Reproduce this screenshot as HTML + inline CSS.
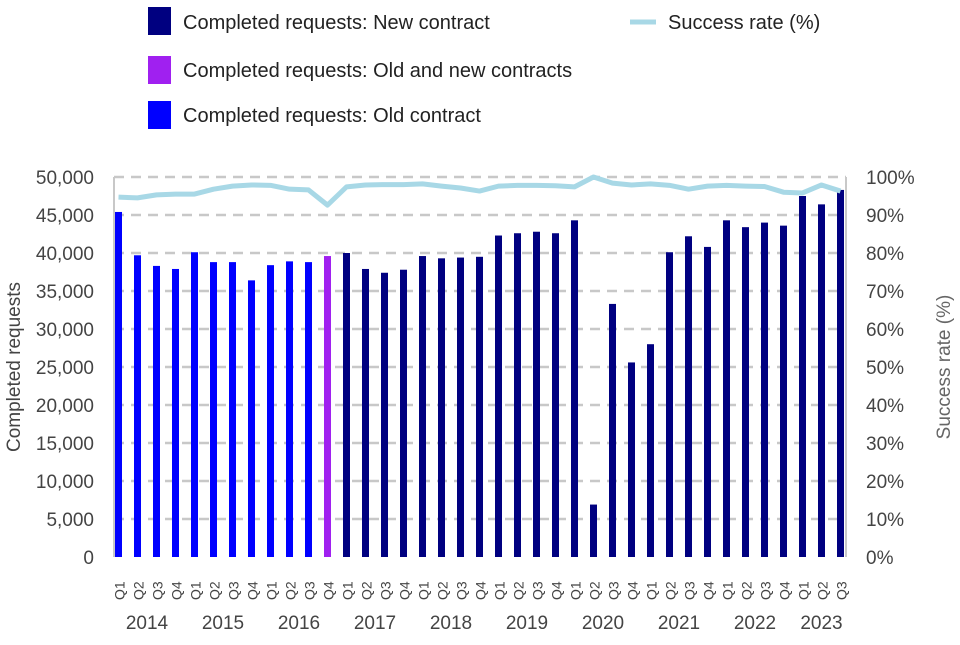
<!DOCTYPE html>
<html><head><meta charset="utf-8"><style>
body{margin:0;background:#fff;}
svg text{font-family:"Liberation Sans",Arial,sans-serif;}
</style></head><body>
<svg id="chart" width="960" height="640" xmlns="http://www.w3.org/2000/svg">
<g>
<g><rect x="148" y="7" width="23" height="28" fill="#000080"/><text x="183" y="29" font-size="20" fill="#222">Completed requests: New contract</text></g>
<g><rect x="148" y="56" width="23" height="28" fill="#a020f0"/><text x="183" y="77" font-size="20" fill="#222">Completed requests: Old and new contracts</text></g>
<g><rect x="148" y="101" width="23" height="28" fill="#0000ff"/><text x="183" y="122" font-size="20" fill="#222">Completed requests: Old contract</text></g>
<g><line x1="630" y1="22" x2="656" y2="22" stroke="#a8d8e6" stroke-width="5"/><text x="668" y="29" font-size="20" fill="#222">Success rate (%)</text></g>
</g>
<g id="grid"></g>
<g id="bars"></g>
<g id="line"></g>
<g id="axes"></g>
<text transform="translate(20,367) rotate(-90)" text-anchor="middle" font-size="19" fill="#444">Completed requests</text>
<text transform="translate(950,367) rotate(-90)" text-anchor="middle" font-size="19" fill="#666">Success rate (%)</text>
</svg>
<script>
const years=["2014","2015","2016","2017","2018","2019","2020","2021","2022","2023"];
const quarters=["Q1","Q2","Q3","Q4","Q1","Q2","Q3","Q4","Q1","Q2","Q3","Q4","Q1","Q2","Q3","Q4","Q1","Q2","Q3","Q4","Q1","Q2","Q3","Q4","Q1","Q2","Q3","Q4","Q1","Q2","Q3","Q4","Q1","Q2","Q3","Q4","Q1","Q2","Q3"];
const completed=[45400,39700,38300,37900,40100,38800,38800,36400,38400,38900,38800,39600,40000,37900,37400,37800,39600,39300,39400,39500,42300,42600,42800,42600,44300,6900,33300,25600,28000,40100,42200,40800,44300,43400,44000,43600,47500,46400,48300];
const contractType=["old","old","old","old","old","old","old","old","old","old","old","both","new","new","new","new","new","new","new","new","new","new","new","new","new","new","new","new","new","new","new","new","new","new","new","new","new","new","new"];
const successRate=[94.7,94.5,95.3,95.5,95.5,96.8,97.6,97.9,97.8,96.8,96.6,92.6,97.4,97.9,98,98,98.2,97.6,97.1,96.3,97.6,97.8,97.8,97.7,97.4,100,98.4,97.9,98.2,97.8,96.8,97.6,97.8,97.6,97.5,96,95.8,97.9,96.3];
const leftTicks=[0,5000,10000,15000,20000,25000,30000,35000,40000,45000,50000];
const rightTicks=[0,10,20,30,40,50,60,70,80,90,100];

const NS="http://www.w3.org/2000/svg";
const X0=109,BW=19,TOP=177,BOT=557;
const x=i=>X0+BW*i+BW/2;
const y=v=>BOT-(v/50000)*(BOT-TOP);
const y2=p=>BOT-(p/100)*(BOT-TOP);
const colors={old:"#0000ff",both:"#a020f0",new:"#000080"};
function mk(tag,attrs,parent,txt){const e=document.createElementNS(NS,tag);for(const k in attrs)e.setAttribute(k,attrs[k]);if(txt!==undefined)e.textContent=txt;parent.appendChild(e);return e;}
const grid=document.getElementById("grid"),bars=document.getElementById("bars"),line=document.getElementById("line"),axes=document.getElementById("axes");
leftTicks.forEach((t,i)=>{
 if(t>0){const g=mk("line",{x1:114,x2:846,y1:y(t),y2:y(t),stroke:"#c8c8c8","stroke-width":2.5,"stroke-dasharray":"10,7"},grid);
 
 }
 const l=mk("text",{x:94,y:y(t)+7,"text-anchor":"end","font-size":19,fill:"#444"},axes,t.toLocaleString("en-US"));
 
 
});
rightTicks.forEach(t=>{
 const l=mk("text",{x:866,y:y2(t)+7,"font-size":19,fill:"#444"},axes,t+"%");
 
 
});
mk("line",{x1:114,x2:114,y1:TOP,y2:BOT,stroke:"#c8c8c8","stroke-width":2},axes);
mk("line",{x1:846,x2:846,y1:TOP,y2:BOT,stroke:"#c8c8c8","stroke-width":2},axes);
completed.forEach((v,i)=>{
 const r=mk("rect",{x:x(i)-3.5,y:y(v),width:7,height:BOT-y(v),fill:colors[contractType[i]]},bars);
 
 
 const q=mk("text",{transform:`translate(${x(i)+6},600) rotate(-90)`,"font-size":14,fill:"#444"},axes,quarters[i]);
 
 
});
years.forEach((yr,k)=>{
 const first=k*4,last=Math.min(k*4+3,completed.length-1);
 const t=mk("text",{x:(x(first)+x(last))/2,y:629,"text-anchor":"middle","font-size":19,fill:"#444"},axes,yr);
 
 
});
const pts=successRate.map((p,i)=>x(i)+","+y2(p)).join(" ");
const pl=mk("polyline",{points:pts,fill:"none",stroke:"#a8d8e6","stroke-width":5,"stroke-linejoin":"round"},line);


</script>
</body></html>
